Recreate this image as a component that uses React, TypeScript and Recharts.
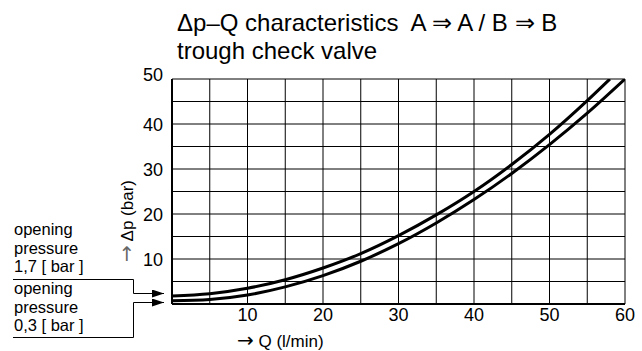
import React from 'react';
import { LineChart, Line, XAxis, YAxis, CartesianGrid } from 'recharts';

// Δp–Q characteristic, A ⇒ A (upper curve, opening pressure 1,7 bar)
const qUpper = [0, 5, 10, 15, 20, 25, 30, 35, 40, 45, 50, 55, 58];
const dpUpper = [1.8, 2.3, 3.5, 5.4, 8.0, 11.2, 15.2, 19.8, 25.0, 31.0, 37.7, 45.2, 50];
// B ⇒ B (lower curve, opening pressure 0,3 bar)
const qLower = [0, 5, 10, 15, 20, 25, 30, 35, 40, 45, 50, 55, 60];
const dpLower = [0.7, 1.0, 2.0, 3.8, 6.3, 9.5, 13.4, 18.0, 23.2, 29.0, 35.4, 42.4, 50];

const xGridTicks = [0, 5, 10, 15, 20, 25, 30, 35, 40, 45, 50, 55, 60];
const yGridTicks = [0, 5, 10, 15, 20, 25, 30, 35, 40, 45, 50];
const xLabelTicks = [10, 20, 30, 40, 50, 60];
const yLabelTicks = [10, 20, 30, 40, 50];

const titleLines = ['\u0394p\u2013Q characteristics  A \u21D2 A / B \u21D2 B', 'trough check valve'];
const xAxisTitle = 'Q (l/min)';
const yAxisTitle = '\u0394p (bar)';
const arrowGlyph = '\u2192';
const noteUpper = ['opening', 'pressure', '1,7 [ bar ]'];
const noteLower = ['opening', 'pressure', '0,3 [ bar ]'];

const upperData = qUpper.map((q, i) => ({ q, dp: dpUpper[i] }));
const lowerData = qLower.map((q, i) => ({ q, dp: dpLower[i] }));

const FONT = '"Liberation Sans", Arial, Helvetica, sans-serif';
const ARROW_FONT = '"DejaVu Sans", sans-serif';

const XTick = (props: any) => {
  const { x, y, payload } = props;
  if (!xLabelTicks.includes(payload.value)) return <g />;
  return (
    <text x={x} y={y} dy={13} textAnchor="middle" fontSize={18} fontFamily={FONT} fill="#000">
      {payload.value}
    </text>
  );
};

const YTick = (props: any) => {
  const { x, y, payload } = props;
  if (!yLabelTicks.includes(payload.value)) return <g />;
  const shift = payload.value === 50 ? -5 : 0;
  return (
    <text x={x} y={y + shift} dy={6.5} textAnchor="end" fontSize={18} fontFamily={FONT} fill="#000">
      {payload.value}
    </text>
  );
};

const Note = ({ lines, y }: { lines: string[]; y: number }) => (
  <text x={14} y={y} fontSize={16.5} fill="#000" style={{ whiteSpace: 'pre' }}>
    {lines.map((t, i) => (
      <tspan key={i} x={14} dy={i === 0 ? 0 : 18.5}>{t}</tspan>
    ))}
  </text>
);

export default function App() {
  return (
    <div style={{ position: 'absolute', left: 0, top: 0, width: 642, height: 351, background: '#fff' }}>
      <LineChart width={642} height={351} margin={{ top: 79, right: 17, bottom: 17, left: 0 }}>
        <CartesianGrid stroke="#000" strokeWidth={1} />
        <XAxis
          type="number"
          dataKey="q"
          domain={[0, 60]}
          ticks={xGridTicks}
          interval={0}
          height={30}
          tickSize={0}
          tickMargin={4}
          tick={<XTick />}
          axisLine={{ stroke: '#000', strokeWidth: 2 }}
          allowDataOverflow
        />
        <YAxis
          type="number"
          domain={[0, 50]}
          ticks={yGridTicks}
          interval={0}
          width={172}
          tickSize={0}
          tickMargin={9}
          tick={<YTick />}
          axisLine={{ stroke: '#000', strokeWidth: 2 }}
          allowDataOverflow
        />
        <Line data={upperData} dataKey="dp" type="monotone" stroke="#000" strokeWidth={3} dot={false} isAnimationActive={false} />
        <Line data={lowerData} dataKey="dp" type="monotone" stroke="#000" strokeWidth={3} dot={false} isAnimationActive={false} />
      </LineChart>
      <svg
        width={642}
        height={351}
        style={{ position: 'absolute', left: 0, top: 0, pointerEvents: 'none' }}
        fontFamily={FONT}
      >
        <defs>
          <marker id="arrowHead" markerWidth="12" markerHeight="8" refX="12" refY="4" orient="auto" markerUnits="userSpaceOnUse">
            <path d="M0,0 L12,4 L0,8 Z" fill="#000" />
          </marker>
        </defs>
        <text x={177} y={31} fontSize={24} fill="#000" style={{ whiteSpace: 'pre' }}>{titleLines[0]}</text>
        <text x={177} y={59} fontSize={24} fill="#000">{titleLines[1]}</text>
        <text x={237} y={347} fontSize={17} fill="#000" style={{ whiteSpace: 'pre' }}>
          <tspan fontFamily={ARROW_FONT} fontSize={20}>{arrowGlyph}</tspan>
          <tspan>{' ' + xAxisTitle}</tspan>
        </text>
        <text x={127} y={221} fontSize={17} fill="#000" textAnchor="middle" transform="rotate(-90 127 221)" dy={6} style={{ whiteSpace: 'pre' }}>
          <tspan fontFamily={ARROW_FONT} fontSize={20} fill="#666">{arrowGlyph}</tspan>
          <tspan>{' ' + yAxisTitle}</tspan>
        </text>
        <Note lines={noteUpper} y={235} />
        <Note lines={noteLower} y={294} />
        <polyline points="13,279.5 133.5,279.5 133.5,293.5 164,293.5" fill="none" stroke="#000" strokeWidth={1} markerEnd="url(#arrowHead)" />
        <polyline points="13,337.5 133.5,337.5 133.5,302.5 164,302.5" fill="none" stroke="#000" strokeWidth={1} markerEnd="url(#arrowHead)" />
      </svg>
    </div>
  );
}
